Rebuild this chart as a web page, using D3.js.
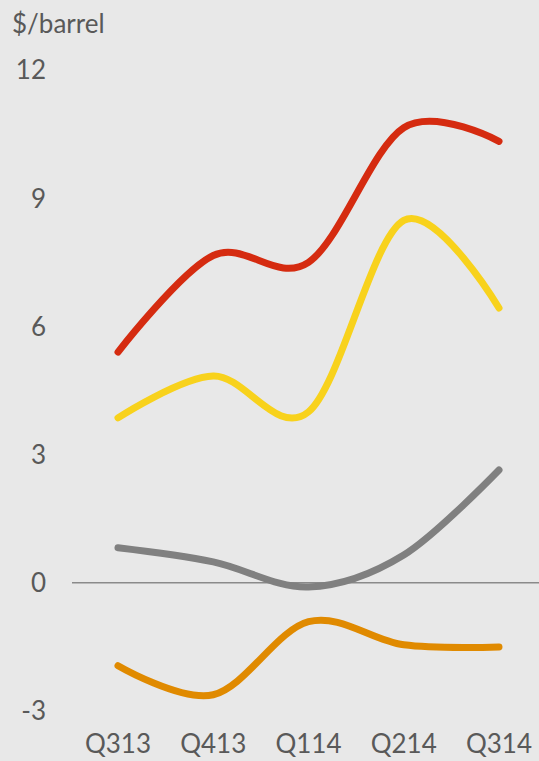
<!DOCTYPE html>
<html><head><meta charset="utf-8">
<script src="https://cdn.jsdelivr.net/npm/d3@7"></script>
<style>html,body{margin:0;padding:0;background:#e8e8e8;}svg{display:block;}</style>
</head><body>
<script>
const categories = ["Q313","Q413","Q114","Q214","Q314"];
const redValues = [5.4, 7.66, 7.5, 10.65, 10.33];
const yellowValues = [3.86, 4.84, 4.0, 8.48, 6.43];
const grayValues = [0.82, 0.49, -0.1, 0.65, 2.64];
const orangeValues = [-1.94, -2.62, -0.91, -1.45, -1.5];
const yTicks = [12, 9, 6, 3, 0, -3];
const unitLabel = "$/barrel";

const W = 539, H = 761;
const svg = d3.select("body").append("svg").attr("width", W).attr("height", H);
svg.append("rect").attr("width", W).attr("height", H).attr("fill", "#e8e8e8");

const x = d3.scalePoint().domain(categories).range([118, 499]);
const y = d3.scaleLinear().domain([-3, 12]).range([711, 70]);
const font = "Lato, 'Open Sans', sans-serif";
const textColor = "#595959";
const fs = 26;

svg.append("text").attr("x", 12).attr("y", 33).text(unitLabel)
  .attr("font-family", font).attr("font-size", fs).attr("fill", textColor);

svg.append("g").selectAll("text").data(yTicks).join("text")
  .attr("x", 46).attr("y", d => y(d)).attr("dy", "0.36em")
  .attr("text-anchor", "end").text(d => d)
  .attr("font-family", font).attr("font-size", fs).attr("fill", textColor);

svg.append("g").selectAll("text").data(categories).join("text")
  .attr("x", d => x(d)).attr("y", 753)
  .attr("text-anchor", "middle").text(d => d)
  .attr("font-family", font).attr("font-size", fs).attr("fill", textColor);

svg.append("line").attr("x1", 72).attr("x2", W).attr("y1", y(0)).attr("y2", y(0))
  .attr("stroke", "#8a8a8a").attr("stroke-width", 1.5);

const series = [
  {values: grayValues, color: "#808080"},
  {values: orangeValues, color: "#e08a00"},
  {values: yellowValues, color: "#f8d21c"},
  {values: redValues, color: "#d52b10"}
];
const line = d3.line().x((d, i) => x(categories[i])).y(d => y(d)).curve(d3.curveCardinal.tension(0));
svg.append("g").selectAll("path").data(series).join("path")
  .attr("d", d => line(d.values)).attr("fill", "none")
  .attr("stroke", d => d.color).attr("stroke-width", 7)
  .attr("stroke-linecap", "round").attr("stroke-linejoin", "round");
</script>
</body></html>
